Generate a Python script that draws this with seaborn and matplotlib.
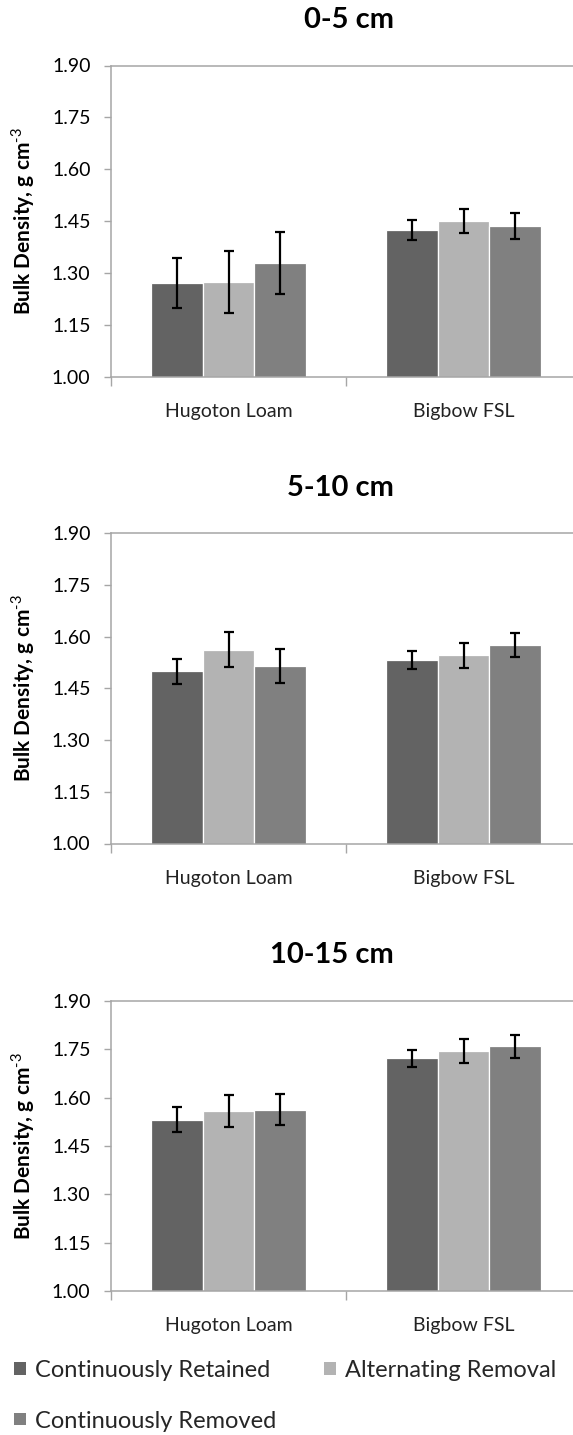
import numpy as np
import pandas as pd
import matplotlib
matplotlib.use("Agg")
import matplotlib.pyplot as plt
from matplotlib.patches import Rectangle
from matplotlib.ticker import FixedLocator, FormatStrFormatter
import seaborn as sns

# ---- data -------------------------------------------------------------
soils = ["Hugoton Loam", "Bigbow FSL"]
treatments = ["Continuously Retained", "Alternating Removal", "Continuously Removed"]
depths = ["0-5 cm", "5-10 cm", "10-15 cm"]

# mean bulk density (g cm-3), one list per treatment, ordered as `soils`
mean_0_5_retained = [1.271, 1.424]
mean_0_5_alternating = [1.274, 1.449]
mean_0_5_removed = [1.328, 1.436]
se_0_5_retained = [0.072, 0.029]
se_0_5_alternating = [0.090, 0.035]
se_0_5_removed = [0.089, 0.037]

mean_5_10_retained = [1.499, 1.533]
mean_5_10_alternating = [1.562, 1.545]
mean_5_10_removed = [1.515, 1.575]
se_5_10_retained = [0.037, 0.026]
se_5_10_alternating = [0.050, 0.036]
se_5_10_removed = [0.050, 0.034]

mean_10_15_retained = [1.532, 1.722]
mean_10_15_alternating = [1.558, 1.745]
mean_10_15_removed = [1.563, 1.760]
se_10_15_retained = [0.039, 0.026]
se_10_15_alternating = [0.050, 0.036]
se_10_15_removed = [0.048, 0.036]

y_ticks = [1.00, 1.15, 1.30, 1.45, 1.60, 1.75, 1.90]

panels = [
    (depths[0], [mean_0_5_retained, mean_0_5_alternating, mean_0_5_removed],
     [se_0_5_retained, se_0_5_alternating, se_0_5_removed]),
    (depths[1], [mean_5_10_retained, mean_5_10_alternating, mean_5_10_removed],
     [se_5_10_retained, se_5_10_alternating, se_5_10_removed]),
    (depths[2], [mean_10_15_retained, mean_10_15_alternating, mean_10_15_removed],
     [se_10_15_retained, se_10_15_alternating, se_10_15_removed]),
]

# ---- style ------------------------------------------------------------
sns.set_theme(style="white")
plt.rcParams["font.family"] = ["Lato", "DejaVu Sans"]
plt.rcParams["mathtext.fontset"] = "custom"
plt.rcParams["mathtext.rm"] = "Lato"
plt.rcParams["mathtext.bf"] = "Lato:bold"

colors = ["#636363", "#b3b3b3", "#808080"]
palette = dict(zip(treatments, colors))
axis_grey = "#a6a6a6"

W, H = 573, 1435
fig = plt.figure(figsize=(W / 100, H / 100), dpi=100)

def fx(px):
    return px / W

def fy(px):
    return 1 - px / H

# axes boxes in pixels: (left, top, right, bottom)
boxes = [(111, 65.5, 581, 376.5), (111, 533, 581, 843.5), (111, 1001, 581, 1291)]
title_y = [20, 488, 955]

for (depth, means, ses), box, ty in zip(panels, boxes, title_y):
    l, t, r, b = box
    ax = fig.add_axes([fx(l), fy(b), fx(r) - fx(l), fy(t) - fy(b)])

    df = pd.DataFrame({
        "soil": np.tile(soils, len(treatments)),
        "treatment": np.repeat(treatments, len(soils)),
        "density": np.concatenate(means),
        "se": np.concatenate(ses),
    })

    sns.barplot(data=df, x="soil", y="density", hue="treatment",
                order=soils, hue_order=treatments, palette=palette,
                width=0.66, errorbar=None, edgecolor="white", linewidth=0.9,
                legend=False, ax=ax)

    # error bars placed on the drawn bars
    for cont, tr in zip(ax.containers, treatments):
        sub = df[df["treatment"] == tr].set_index("soil").loc[soils]
        xs = [p.get_x() + p.get_width() / 2 for p in cont.patches]
        ys = [p.get_height() for p in cont.patches]
        ax.errorbar(xs, ys, yerr=sub["se"].values, fmt="none", ecolor="black",
                    elinewidth=1.6, capsize=3.6, capthick=1.6, zorder=5)

    ax.set_xlim(-0.5, 1.5)
    ax.set_ylim(1.0, 1.9)
    ax.yaxis.set_major_locator(FixedLocator(y_ticks))
    ax.yaxis.set_major_formatter(FormatStrFormatter("%.2f"))
    ax.xaxis.set_minor_locator(FixedLocator([-0.5, 0.5, 1.5]))

    ax.tick_params(axis="y", which="major", left=True, length=5.2, width=1,
                   color=axis_grey, pad=9.5, labelsize=14, labelcolor="black")
    ax.tick_params(axis="x", which="major", bottom=True, length=0, pad=19,
                   labelsize=14, labelcolor="#222222")
    ax.tick_params(axis="x", which="minor", bottom=True, length=6.5, width=1,
                   color=axis_grey)

    for s in ax.spines.values():
        s.set_color(axis_grey)
        s.set_linewidth(1.1)

    ax.set_xlabel("")
    ax.set_ylabel("Bulk Density, g cm$^{\\text{-3}}$",
                  fontsize=15, fontweight="bold", color="black")
    ax.yaxis.set_label_coords((37 - l) / (r - l), 0.5)

    fig.text(fx(394), fy(ty), depth, ha="right", va="center",
             fontsize=21, fontweight="bold", color="black")

# ---- legend (two columns, filled column by column) --------------------
order = [0, 2, 1]
handles = [Rectangle((0, 0), 1, 1, facecolor=colors[i], edgecolor="none") for i in order]
labels = [treatments[i] for i in order]
fig.legend(handles, labels, loc="upper left",
           bbox_to_anchor=(fx(14), fy(1360)), ncol=2, frameon=False,
           fontsize=17, handlelength=0.52, handleheight=0.42,
           handletextpad=0.35, columnspacing=2.05, labelspacing=1.25,
           borderpad=0, borderaxespad=0)

fig.savefig("out.png", dpi=100)
